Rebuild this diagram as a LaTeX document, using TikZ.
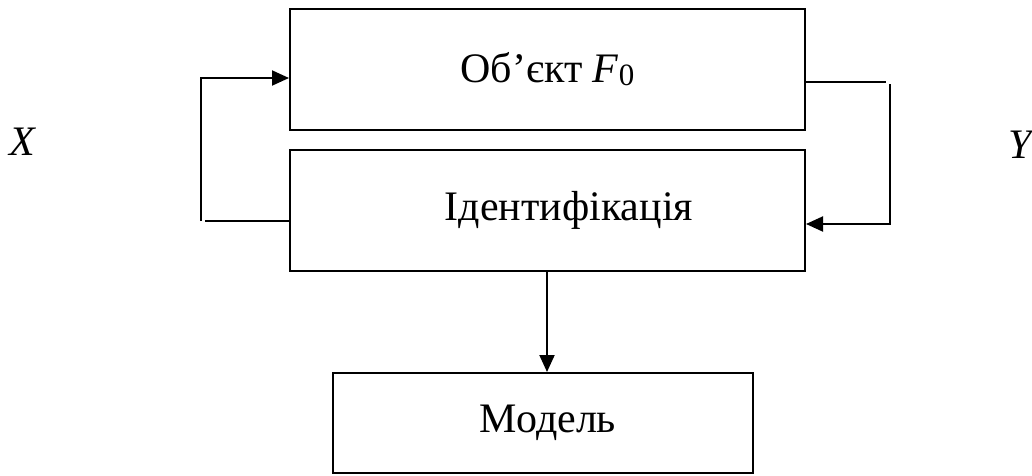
\documentclass[tikz,border=0pt]{standalone}
\usepackage{fontspec}
\setmainfont{Liberation Serif}
\usetikzlibrary{arrows.meta}
\begin{document}
\begin{tikzpicture}[x=1pt,y=-1pt,
  blk/.style={draw,line width=2pt,minimum width=#1,inner sep=0pt,font=\fontsize{42}{50}\selectfont},
  lbl/.style={inner sep=0pt,font=\fontsize{42}{50}\selectfont\itshape},
  wire/.style={line width=2pt},
  arr/.style={line width=2pt,-{Triangle[length=17pt,width=15pt]}}]
\useasboundingbox (0,0) rectangle (1032,475);
\node[blk=515pt,minimum height=121pt] (obj) at (547.5,69.5) {\raisebox{3pt}{Об’єкт \textit{F}\raisebox{-3pt}{\fontsize{31}{33}\selectfont 0}}};
\node[blk=515pt,minimum height=121pt] (idn) at (547.5,210.5) {\hspace*{43pt}Ідентифікація};
\node[blk=420pt,minimum height=100pt] (mod) at (543,423) {\hspace*{10pt}Модель};
\node[lbl] (X) at (22,142) {X};
\node[lbl] (Y) at (1020,145) {Y};
% left feedback
\coordinate (lb) at (205,221);
\coordinate (lv) at (201,221);
\coordinate (lt) at (201,78);
\draw[wire] (lb) -- (lb -| idn.west);
\draw[arr] (lv) -- (lt) -- (lt -| obj.west);
% right feedback
\coordinate (rt) at (886,82);
\coordinate (rv) at (890,84);
\coordinate (rb) at (890,224);
\draw[wire] (rt -| obj.east) -- (rt);
\draw[arr] (rv) -- (rb) -- (rb -| idn.east);
% down
\coordinate (dn) at (547,0);
\draw[arr] (dn |- idn.south) -- (dn |- mod.north);
\end{tikzpicture}
\end{document}
